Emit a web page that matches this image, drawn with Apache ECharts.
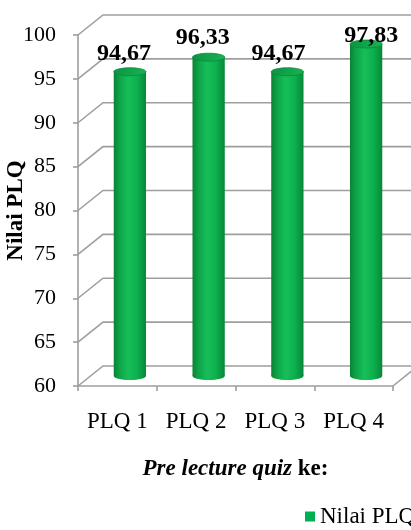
<!DOCTYPE html>
<html>
<head>
<meta charset="utf-8">
<script src="https://cdn.jsdelivr.net/npm/echarts@6/dist/echarts.min.js"></script>
<style>
  html, body { margin: 0; padding: 0; background: #ffffff; }
  #chart { width: 411px; height: 530px; }
</style>
</head>
<body>
<div id="chart"></div>
<script>
// Categories and scores
var categories = ['PLQ 1', 'PLQ 2', 'PLQ 3', 'PLQ 4'];
var scores = [94.67, 96.33, 94.67, 97.83];
var yTicks = [60, 65, 70, 75, 80, 85, 90, 95, 100];
var seriesName = 'Nilai PLQ';

// Drawing settings (pixels): depth of the pseudo-3D box and value-label nudges
var DEPTH_X = 25;
var DEPTH_Y = -20;
var labelNudge = [[-6, -18], [-6, -19], [-9, -18], [5, -8]];

var SERIF = '"Liberation Serif", "Times New Roman", serif';
var GRID_COLOR = '#9e9e9e';
var Y_MIN = 60, Y_MAX = 100;

function fmt(v) { return v.toFixed(2).replace('.', ','); }

var chart = echarts.init(document.getElementById('chart'), null, { renderer: 'canvas' });

// Back-wall gridlines with the diagonal side-wall strokes leading to them
function renderWalls(params, api) {
  var v = api.value(1);
  var band = api.size([1, 0])[0];
  var left = api.coord([0, v])[0] - band / 2;
  var right = api.coord([categories.length - 1, v])[0] + band / 2;
  var y = api.coord([0, v])[1];
  var pts = [[left, y], [left + DEPTH_X, y + DEPTH_Y], [api.getWidth() + 40, y + DEPTH_Y]];
  var children = [{
    type: 'polyline',
    shape: { points: pts },
    style: { stroke: GRID_COLOR, lineWidth: 1.6, fill: null }
  }];
  if (v === Y_MIN) {
    children.push({
      type: 'line',
      shape: { x1: right, y1: y, x2: right + DEPTH_X, y2: y + DEPTH_Y },
      style: { stroke: GRID_COLOR, lineWidth: 1.6 }
    });
  }
  return { type: 'group', children: children, silent: true };
}

// Cylinder bars standing halfway into the box depth
function renderCylinder(params, api) {
  var idx = api.value(0);
  var v = api.value(1);
  var band = api.size([1, 0])[0];
  var top = api.coord([idx, v]);
  var base = api.coord([idx, Y_MIN]);
  var cx = top[0] + DEPTH_X / 2;
  var yt = top[1] + DEPTH_Y / 2;
  var yb = base[1] + DEPTH_Y / 2;
  var rx = band * 0.205;
  var ry = 4;
  var bodyFill = new echarts.graphic.LinearGradient(0, 0, 1, 0, [
    { offset: 0, color: '#0a8236' },
    { offset: 0.18, color: '#0ea347' },
    { offset: 0.45, color: '#16bf5a' },
    { offset: 0.72, color: '#0db04d' },
    { offset: 1, color: '#07883a' }
  ]);
  var capFill = new echarts.graphic.LinearGradient(0, 0, 1, 1, [
    { offset: 0, color: '#0c9240' },
    { offset: 1, color: '#18b456' }
  ]);
  var nudge = labelNudge[idx] || [0, -18];
  return {
    type: 'group',
    children: [
      { type: 'ellipse', shape: { cx: cx, cy: yb, rx: rx, ry: ry }, style: { fill: bodyFill } },
      { type: 'rect', shape: { x: cx - rx, y: yt, width: rx * 2, height: yb - yt }, style: { fill: bodyFill } },
      { type: 'ellipse', shape: { cx: cx, cy: yt, rx: rx, ry: ry }, style: { fill: capFill, stroke: '#0a8a3b', lineWidth: 0.8 } },
      {
        type: 'text',
        x: cx + nudge[0],
        y: yt + nudge[1],
        z2: 10,
        style: {
          text: fmt(v),
          fill: '#000000',
          font: 'bold 24px ' + SERIF,
          align: 'center',
          verticalAlign: 'middle'
        }
      }
    ]
  };
}

var option = {
  animation: false,
  color: ['#00b050'],
  grid: { left: 78, top: 35, right: 18, bottom: 144, containLabel: false, outerBoundsMode: 'none' },
  legend: {
    data: [seriesName],
    left: 300,
    top: 500,
    icon: 'rect',
    itemWidth: 10,
    itemHeight: 10,
    itemGap: 6,
    textStyle: { fontFamily: SERIF, fontSize: 23, color: '#000000' }
  },
  xAxis: {
    type: 'category',
    data: categories,
    boundaryGap: true,
    axisLine: { show: true, lineStyle: { color: GRID_COLOR, width: 1.6 } },
    axisTick: { show: true, length: 5, lineStyle: { color: GRID_COLOR, width: 1.6 } },
    axisLabel: { interval: 0, margin: 24, fontFamily: SERIF, fontSize: 23, color: '#000000' },
    splitLine: { show: false },
    name: '{it|Pre lecture quiz}{b| ke:}',
    nameLocation: 'middle',
    nameGap: 72,
    nameMoveOverlap: false,
    nameTextStyle: {
      rich: {
        it: { fontFamily: SERIF, fontSize: 23, fontWeight: 'bold', fontStyle: 'italic', color: '#000000' },
        b: { fontFamily: SERIF, fontSize: 23, fontWeight: 'bold', color: '#000000' }
      }
    }
  },
  yAxis: {
    type: 'value',
    min: Y_MIN,
    max: Y_MAX,
    interval: 5,
    axisLine: { show: true, lineStyle: { color: GRID_COLOR, width: 1.6 } },
    axisTick: { show: true, length: 5, lineStyle: { color: GRID_COLOR, width: 1.6 } },
    axisLabel: { margin: 22, fontFamily: SERIF, fontSize: 22, color: '#000000' },
    splitLine: { show: false },
    name: 'Nilai PLQ',
    nameLocation: 'middle',
    nameGap: 50,
    nameMoveOverlap: false,
    nameTextStyle: { fontFamily: SERIF, fontSize: 23, fontWeight: 'bold', color: '#000000' }
  },
  series: [
    {
      type: 'custom',
      name: 'walls',
      silent: true,
      z: 1,
      clip: false,
      renderItem: renderWalls,
      data: yTicks.map(function (t) { return [0, t]; })
    },
    {
      type: 'custom',
      name: seriesName,
      z: 5,
      clip: false,
      itemStyle: { color: '#00b050' },
      renderItem: renderCylinder,
      data: scores.map(function (s, i) { return [i, s]; })
    }
  ]
};

chart.setOption(option);
</script>
</body>
</html>
